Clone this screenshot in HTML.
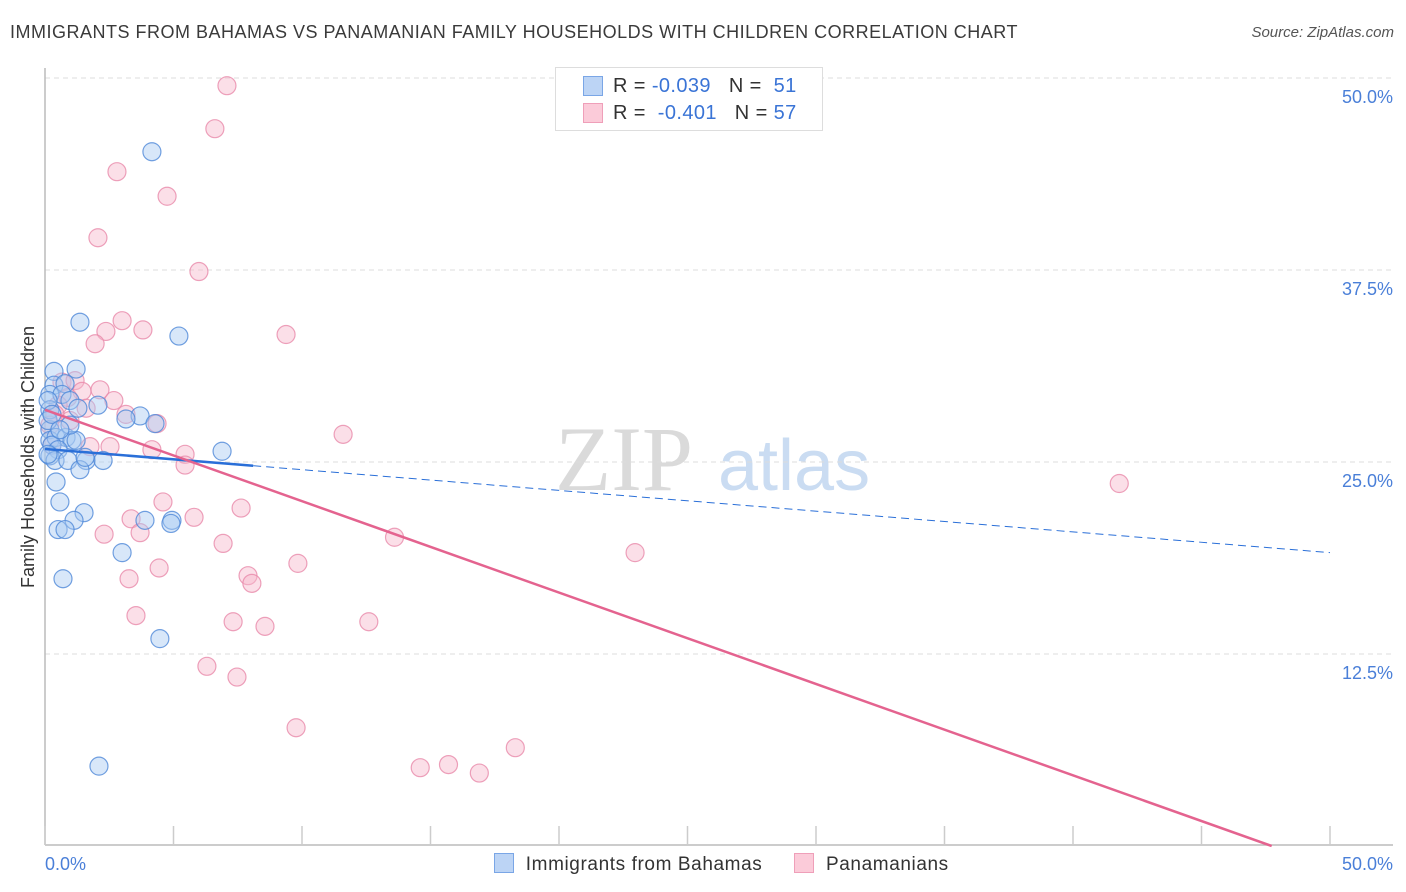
<!DOCTYPE html>
<html><head><meta charset="utf-8">
<style>
body{margin:0;background:#fff;font-family:"Liberation Sans",sans-serif;}
#wrap{position:relative;width:1406px;height:892px;overflow:hidden;}
.t{position:absolute;white-space:nowrap;}
</style></head>
<body>
<div id="wrap">
<div class="t" style="left:10px;top:22px;font-size:18px;letter-spacing:0.5px;color:#3a3a3a;">IMMIGRANTS FROM BAHAMAS VS PANAMANIAN FAMILY HOUSEHOLDS WITH CHILDREN CORRELATION CHART</div>
<div class="t" style="right:12px;top:24px;font-size:15px;color:#555;font-style:italic;">Source: ZipAtlas.com</div>
<svg id="svg" width="1406" height="892" style="position:absolute;left:0;top:0"></svg>
</div>
<script>
const blueX=[4.16,1.36,5.21,.35,1.21,.35,.78,.19,.66,.97,2.06,1.28,.19,3.70,3.15,4.28,.19,.19,.43,.82,1.05,1.21,.27,.51,.19,.39,.89,1.60,2.26,1.36,.43,.58,1.52,1.13,.51,.78,3.89,4.94,4.90,3.0,.70,4.47,2.10,6.89,.12,.12,.12,.27,.97,1.56,.58];
const blueY=[45.2,34.1,33.2,30.9,31.05,30.0,30.1,29.4,29.4,29.0,28.7,28.5,28.4,28.0,27.8,27.5,27.1,26.4,26.6,26.6,26.4,26.4,26.1,25.8,25.4,25.1,25.1,25.1,25.1,24.5,23.7,22.4,21.7,21.2,20.6,20.6,21.2,21.2,21.0,19.1,17.4,13.5,5.2,25.7,29.0,27.7,25.5,28.1,27.4,25.3,27.1];
const pinkX=[7.08,6.61,2.80,4.75,2.06,5.99,3.0,3.81,2.37,1.95,9.38,.66,1.17,1.44,2.14,.89,.51,1.60,2.68,.39,3.15,4.36,.19,.27,1.75,2.53,4.16,5.45,5.45,11.6,4.59,7.63,3.35,5.80,2.30,3.70,6.93,13.6,22.96,9.84,4.44,3.27,7.90,8.05,3.54,7.32,8.56,12.6,6.30,7.47,9.77,14.6,15.7,16.9,18.3,41.8,.97];
const pinkY=[49.5,46.7,43.9,42.3,39.6,37.4,34.2,33.6,33.5,32.7,33.3,30.2,30.3,29.6,29.7,29.2,28.7,28.5,29.0,28.1,28.1,27.5,27.4,26.1,26.0,26.0,25.8,25.5,24.8,26.8,22.4,22.0,21.3,21.4,20.3,20.4,19.7,20.1,19.1,18.4,18.1,17.4,17.6,17.1,15.0,14.6,14.3,14.6,11.7,11.0,7.7,5.1,5.3,4.75,6.4,23.6,27.7];
const blueTrend=[25.85,-0.135];
const pinkTrend=[28.4,-0.595];
const yTicks=[12.5,25,37.5,50];
const yTickLabels=["12.5%","25.0%","37.5%","50.0%"];
const xTicks=[0,5,10,15,20,25,30,35,40,45,50];

const X=v=>45+v*25.7, Y=v=>846-v*15.36;
const svg=document.getElementById('svg');const NS='http://www.w3.org/2000/svg';
function mk(tag,a,p){const e=document.createElementNS(NS,tag);for(const k in a)e.setAttribute(k,a[k]);(p||svg).appendChild(e);return e;}
let wm=mk('text',{x:555,y:490,'font-size':92,'font-family':'Liberation Serif, serif',fill:'#dadada'});wm.textContent='ZIP';


let wm2=mk('text',{x:718,y:490,'font-size':72,'font-family':'Liberation Sans, sans-serif',fill:'#cadcf2'});wm2.textContent='atlas';


yTicks.forEach((v,i)=>{
 const g=mk('line',{x1:45,x2:1393,y1:Y(v),y2:Y(v),stroke:'#dcdcdc','stroke-dasharray':'5,4'});
 
 
 const t=mk('text',{x:1393,y:Y(v)+25,'text-anchor':'end','font-size':18,fill:'#4a7fd8'});t.textContent=yTickLabels[i];
 
 
});
const ax=mk('line',{x1:45,x2:1393,y1:845,y2:845,stroke:'#bbb','stroke-width':1.5});


const ay=mk('line',{x1:45,x2:45,y1:68,y2:845,stroke:'#bbb','stroke-width':1.5});


xTicks.forEach(v=>{const t=mk('line',{x1:X(v),x2:X(v),y1:826,y2:845,stroke:'#ccc','stroke-width':1.5});
 
 });
const xl0=mk('text',{x:45,y:870,'font-size':18,fill:'#4a7fd8'});xl0.textContent='0.0%';


const xl1=mk('text',{x:1393,y:870,'font-size':18,fill:'#4a7fd8','text-anchor':'end'});xl1.textContent='50.0%';


const yt=mk('text',{x:34,y:457,'font-size':18,fill:'#333','text-anchor':'middle',transform:'rotate(-90 34 457)'});yt.textContent='Family Households with Children';


function pts(xs,ys,fill,stroke,name){xs.forEach((x,i)=>{const c=mk('circle',{cx:X(x),cy:Y(ys[i]),r:9,fill:fill,'fill-opacity':0.45,stroke:stroke,'stroke-opacity':0.8,'stroke-width':1.2});
 
 });}
pts(pinkX,pinkY,'#f7b9cc','#e98aaa','point-panamanians');
pts(blueX,blueY,'#a9c9f2','#4f88d8','point-bahamas');
const b1=mk('line',{x1:X(0),y1:Y(blueTrend[0]),x2:X(8.1),y2:Y(blueTrend[0]+blueTrend[1]*8.1),stroke:'#2a6fd8','stroke-width':2.5});


const b2=mk('line',{x1:X(8.1),y1:Y(blueTrend[0]+blueTrend[1]*8.1),x2:X(50),y2:Y(blueTrend[0]+blueTrend[1]*50),stroke:'#2a6fd8','stroke-width':1,'stroke-dasharray':'8,5'});


const xe=-pinkTrend[0]/pinkTrend[1];
const p1=mk('line',{x1:X(0),y1:Y(pinkTrend[0]),x2:X(xe),y2:Y(0),stroke:'#e4638f','stroke-width':2.5});


</script>
<div class="t" style="left:555px;top:67px;width:266px;height:62px;border:1px solid #ddd;background:#fff;">
 <div style="position:absolute;left:27px;top:8px;width:20px;height:20px;background:#bcd4f5;border:1px solid #7aa6e6;box-sizing:border-box"></div>
 <div style="position:absolute;left:27px;top:35px;width:20px;height:20px;background:#fbcbd9;border:1px solid #ef9fb9;box-sizing:border-box"></div>
 <div class="t" style="left:57px;top:7px;font-size:20px;letter-spacing:0.4px;color:#333">R = <span style="color:#3a74d6">-0.039</span>&nbsp;&nbsp;&nbsp;N = &nbsp;<span style="color:#3a74d6">51</span></div>
 <div class="t" style="left:57px;top:34px;font-size:20px;letter-spacing:0.4px;color:#333">R = &nbsp;<span style="color:#3a74d6">-0.401</span>&nbsp;&nbsp;&nbsp;N = <span style="color:#3a74d6">57</span></div>
</div>
<div class="t" style="left:494px;top:853px;font-size:19px;letter-spacing:0.6px;color:#333">
 <span style="display:inline-block;width:20px;height:20px;background:#bcd4f5;border:1px solid #7aa6e6;box-sizing:border-box;vertical-align:-3px"></span>&nbsp; Immigrants from Bahamas
 <span style="display:inline-block;width:20px;height:20px;background:#fbcbd9;border:1px solid #ef9fb9;box-sizing:border-box;vertical-align:-3px;margin-left:26px"></span>&nbsp; Panamanians
</div>
</body></html>
